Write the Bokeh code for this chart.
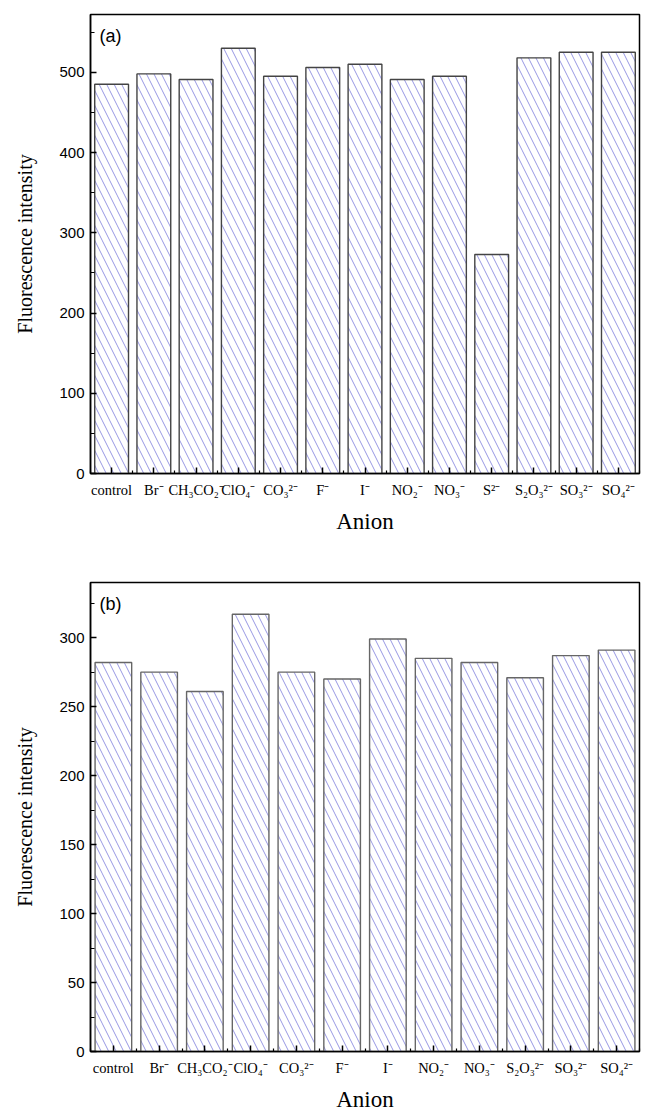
from bokeh.plotting import figure
from bokeh.models import FixedTicker, Range1d, Label, ColumnDataSource
from bokeh.layouts import column
from bokeh.embed import file_html
from bokeh.resources import INLINE

# ---- data ----
anions_a = ["control", "Br⁻", "CH₃CO₂⁻", "ClO₄⁻", "CO₃²⁻", "F⁻", "I⁻",
            "NO₂⁻", "NO₃⁻", "S²⁻", "S₂O₃²⁻", "SO₃²⁻", "SO₄²⁻"]
values_a = [485, 498, 491, 530, 495, 506, 510, 491, 495, 273, 518, 525, 525]

anions_b = ["control", "Br⁻", "CH₃CO₂⁻", "ClO₄⁻", "CO₃²⁻", "F⁻", "I⁻",
            "NO₂⁻", "NO₃⁻", "S₂O₃²⁻", "SO₃²⁻", "SO₄²⁻"]
values_b = [282, 275, 261, 317, 275, 270, 299, 285, 282, 271, 287, 291]

yticks_a = [0, 100, 200, 300, 400, 500]
yminor_a = [50, 150, 250, 350, 450, 550]
yticks_b = [0, 50, 100, 150, 200, 250, 300]
yminor_b = [25, 75, 125, 175, 225, 275, 325]

x_title = "Anion"
y_title = "Fluorescence intensity"

SERIF = "Liberation Serif"
SANS = "Liberation Sans"


def panel(names, vals, ymax, yt, ym, tag, top, fh, bottom, edge):
    n = len(names)
    idx = list(range(n))
    src = ColumnDataSource(dict(x=idx, top=vals, name=names))
    p = figure(frame_width=549, frame_height=fh,
               x_range=Range1d(-0.5, n - 0.5), y_range=Range1d(0, ymax),
               output_backend="svg", toolbar_location=None,
               min_border_left=90, min_border_right=8,
               min_border_top=top, min_border_bottom=bottom)
    p.vbar(x="x", top="top", width=0.8, bottom=0, source=src,
           fill_color="white", line_color=edge, line_width=1.4,
           hatch_pattern="left_diagonal_line", hatch_color="#8c8ce0",
           hatch_scale=15, hatch_weight=1, hatch_alpha=0.9)
    p.grid.visible = False
    p.outline_line_color = "black"
    p.outline_line_width = 1.5
    p.outline_line_alpha = 1

    xa = p.xaxis[0]
    xa.ticker = FixedTicker(ticks=idx, minor_ticks=[i - 0.5 for i in range(n + 1)])
    xa.major_label_overrides = {i: names[i] for i in idx}
    xa.major_tick_in = 6
    xa.major_tick_out = 0
    xa.minor_tick_in = 3
    xa.minor_tick_out = 0
    xa.major_label_text_font = SERIF
    xa.major_label_text_font_size = "14.5px"
    xa.major_label_text_color = "black"
    xa.major_label_standoff = 8
    xa.axis_label = x_title
    xa.axis_label_text_font = SERIF
    xa.axis_label_text_font_size = "23px"
    xa.axis_label_text_font_style = "normal"
    xa.axis_label_text_color = "black"
    xa.axis_label_standoff = 8

    ya = p.yaxis[0]
    ya.ticker = FixedTicker(ticks=yt, minor_ticks=ym)
    ya.major_tick_in = 6
    ya.major_tick_out = 0
    ya.minor_tick_in = 4
    ya.minor_tick_out = 0
    ya.major_label_text_font = SANS
    ya.major_label_text_font_size = "15px"
    ya.major_label_text_color = "black"
    ya.major_label_standoff = 6
    ya.axis_label = y_title
    ya.axis_label_text_font = SERIF
    ya.axis_label_text_font_size = "20px"
    ya.axis_label_text_font_style = "normal"
    ya.axis_label_text_color = "black"
    ya.axis_label_standoff = 20

    for ax in (xa, ya):
        ax.axis_line_color = "black"
        ax.axis_line_width = 1.5
        ax.major_tick_line_color = "black"
        ax.major_tick_line_width = 1.5
        ax.minor_tick_line_color = "black"
        ax.minor_tick_line_width = 1.2

    p.add_layout(Label(x=-0.5, y=ymax, x_offset=9, y_offset=-11, text=tag,
                       text_font=SANS, text_font_size="18px",
                       text_baseline="top", text_color="black"))
    return p


p1 = panel(anions_a, values_a, 572, yticks_a, yminor_a, "(a)", 14, 459, 70, "#444444")
p2 = panel(anions_b, values_b, 340, yticks_b, yminor_b, "(b)", 39, 469, 64, "#666666")

layout = column(p1, p2, spacing=0)
open("out.html", "w").write(file_html(layout, INLINE))
